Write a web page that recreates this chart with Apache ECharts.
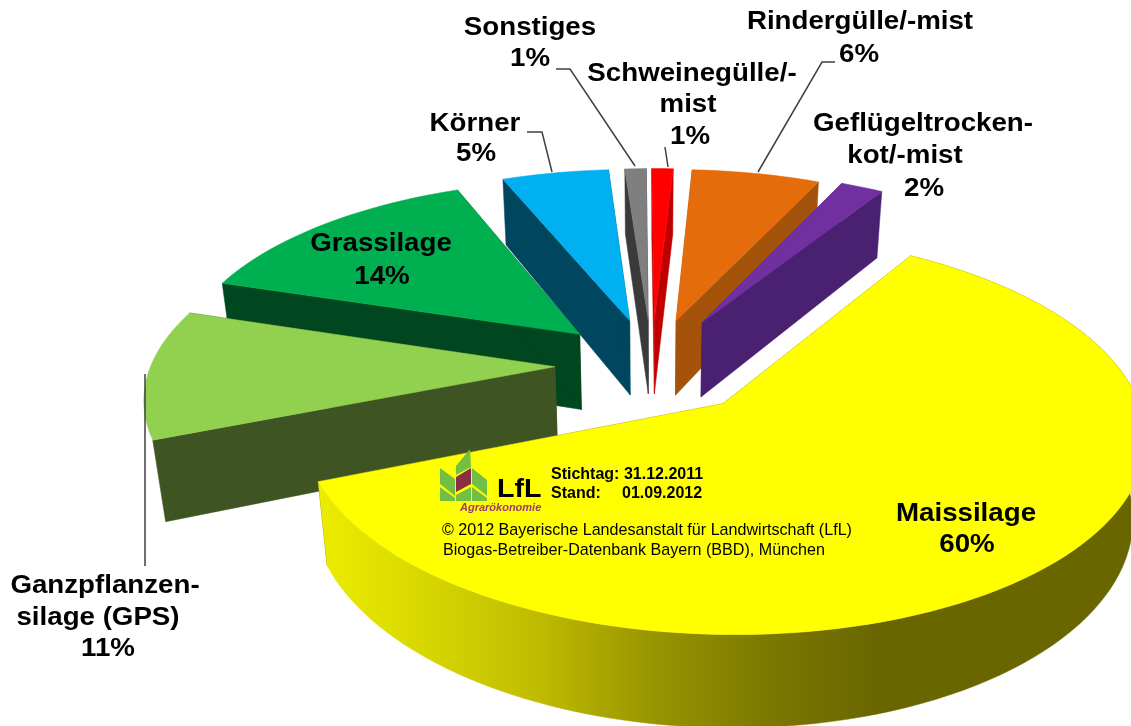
<!DOCTYPE html>
<html>
<head>
<meta charset="utf-8">
<title>Substrate Biogas Bayern</title>
<script src="https://cdn.jsdelivr.net/npm/echarts@6/dist/echarts.min.js"></script>
<style>
  html, body { margin: 0; padding: 0; background: #fff; }
  #main { width: 1131px; height: 726px; }
</style>
</head>
<body>
<div id="main"></div>
<script>
// chart data, clockwise from the Maissilage slice
const categories = ['Maissilage', 'Ganzpflanzensilage (GPS)', 'Grassilage', 'Körner', 'Sonstiges', 'Schweinegülle/-mist', 'Rindergülle/-mist', 'Geflügeltrockenkot/-mist'];
const shares = [60, 11, 14, 5, 1, 1, 6, 2];
const topColors = ['#FFFF00', '#92D050', '#00B050', '#00B0F0', '#7F7F7F', '#FF0000', '#E46C0A', '#7030A0'];
const wallColors = ['#696600', '#3E5422', '#00461F', '#00465F', '#3A3A3A', '#C00000', '#A5520B', '#4A2070'];
// how far each slice is pulled out of the pie
const explode = [0.265, 0.24, 0.25, 0.255, 0.255, 0.255, 0.255, 0.27];
// back slices first, front slices paint over them
const paintOrder = [3, 4, 5, 6, 7, 2, 1, 0];

// camera of the 3d pie
const view = { ox: 652, oy: 365, ax: 404, by: 185, persp: 0.145, depth: 77, shrink: 0.025, start: 32 };

const project = (x, y, down) => {
  const w = 1 + view.persp * y;
  return [
    view.ox + view.ax * x / (w + view.shrink * down),
    view.oy + (-view.by * y + view.depth * down) / w
  ];
};

const slices = [];
let cursor = view.start;
shares.forEach((v, i) => {
  const sweep = v * 3.6;
  const mid = (cursor + sweep / 2) * Math.PI / 180;
  slices.push({ from: cursor, to: cursor + sweep, dx: explode[i] * Math.sin(mid), dy: explode[i] * Math.cos(mid) });
  cursor += sweep;
});

const rimPoints = (s, down) => {
  const pts = [];
  const steps = Math.max(2, Math.ceil((s.to - s.from) / 2));
  for (let i = 0; i <= steps; i++) {
    const a = (s.from + (s.to - s.from) * i / steps) * Math.PI / 180;
    pts.push(project(s.dx + Math.sin(a), s.dy + Math.cos(a), down));
  }
  return pts;
};

const poly = (points, fill) => ({
  type: 'polygon',
  shape: { points: points },
  style: { fill: fill, stroke: fill, lineWidth: 0.5 }
});

const renderSlice = (params, api) => {
  const i = api.value(0);
  const s = slices[i];
  const top = rimPoints(s, 0);
  const bottom = rimPoints(s, 1);
  const apexTop = project(s.dx, s.dy, 0);
  const apexBottom = project(s.dx, s.dy, 1);
  const last = top.length - 1;
  const children = [
    poly([apexTop, top[0], bottom[0], apexBottom], wallColors[i]),
    poly([apexTop, top[last], bottom[last], apexBottom], wallColors[i])
  ];
  // only the slice that holds the front of the pie shows its outer wall
  if (s.from < 180 && s.to > 180) {
    const wallFill = new echarts.graphic.LinearGradient(316, 0, 880, 0, [
      { offset: 0, color: '#EDED00' },
      { offset: 0.2, color: '#D6D600' },
      { offset: 0.4, color: '#BEBA00' },
      { offset: 0.6, color: '#989400' },
      { offset: 0.8, color: '#7C7800' },
      { offset: 1, color: wallColors[i] }
    ], true);
    children.push(poly(top.concat(bottom.slice().reverse()), wallFill));
  }
  children.push(poly([apexTop].concat(top), topColors[i]));
  return { type: 'group', children: children };
};

const family = '"Liberation Sans", Arial, sans-serif';
const labelFont = 'bold 26px ' + family;
const labels = [
  ['Sonstiges', 530, 28], ['1%', 530, 59],
  ['Schweinegülle/-', 692, 74], ['mist', 688, 105], ['1%', 690, 137],
  ['Rindergülle/-mist', 860, 22], ['6%', 859, 55],
  ['Geflügeltrocken-', 923, 124], ['kot/-mist', 905, 156], ['2%', 924, 189],
  ['Körner', 475, 124], ['5%', 476, 154],
  ['Grassilage', 381, 244], ['14%', 382, 277],
  ['Maissilage', 966, 514], ['60%', 967, 545],
  ['Ganzpflanzen-', 105, 586], ['silage (GPS)', 98, 618], ['11%', 108, 649]
];
const leaders = [
  [[527, 132], [542, 132], [552, 172]],
  [[556, 69], [570, 69], [635, 166]],
  [[665, 147], [668, 167]],
  [[835, 62], [822, 62], [758, 172]],
  [[145, 374], [145, 566]]
];
const notes = [
  ['Stichtag: 31.12.2011', 551, 475, 'bold 16px '],
  ['Stand:', 551, 494, 'bold 16px '],
  ['01.09.2012', 622, 494, 'bold 16px '],
  ['© 2012 Bayerische Landesanstalt für Landwirtschaft (LfL)', 442, 531, '16.1px '],
  ['Biogas-Betreiber-Datenbank Bayern (BBD), München', 443, 551, '16.1px ']
];
const logoGreen = [
  [[456, 466], [470, 449], [471, 467], [456, 475]],
  [[440, 468], [455, 479], [455, 496], [440, 484]],
  [[472, 468], [487, 480], [487, 496], [472, 484]],
  [[440, 487], [455, 498], [455, 501], [440, 501]],
  [[472, 487], [487, 498], [487, 501], [472, 501]],
  [[456, 495], [471, 487], [471, 501], [456, 501]]
];
const logoRed = [[456, 477], [471, 468], [471, 484], [456, 492]];

const graphics = [];
leaders.forEach((pts) => {
  graphics.push({ type: 'polyline', z: 5, shape: { points: pts }, style: { stroke: '#404040', lineWidth: 1.5, fill: null } });
});
labels.forEach((l) => {
  graphics.push({ type: 'text', z: 6, x: l[1], y: l[2], scaleX: 1.065, style: { text: l[0], fill: '#000', font: labelFont, textAlign: 'center', textVerticalAlign: 'middle' } });
});
notes.forEach((n) => {
  graphics.push({ type: 'text', z: 6, x: n[1], y: n[2], style: { text: n[0], fill: '#000', font: n[3] + family, textAlign: 'left', textVerticalAlign: 'middle' } });
});
logoGreen.forEach((pts) => {
  graphics.push({ type: 'polygon', z: 5, shape: { points: pts }, style: { fill: '#72BF44' } });
});
graphics.push({ type: 'polygon', z: 5, shape: { points: logoRed }, style: { fill: '#8A2E44' } });
graphics.push({ type: 'text', z: 6, x: 497, y: 490, scaleX: 1.1, style: { text: 'LfL', fill: '#000', font: 'bold 26px ' + family, textAlign: 'left', textVerticalAlign: 'middle' } });
graphics.push({ type: 'text', z: 6, x: 460, y: 508, style: { text: 'Agrarökonomie', fill: '#9C3B6E', font: 'italic bold 11px ' + family, textAlign: 'left', textVerticalAlign: 'middle' } });

const myChart = echarts.init(document.getElementById('main'));
myChart.setOption({
  animation: false,
  backgroundColor: '#fff',
  graphic: graphics,
  series: [
    {
      type: 'custom',
      coordinateSystem: 'none',
      renderItem: renderSlice,
      silent: true,
      data: paintOrder.map((i) => ({ name: categories[i], value: [i, shares[i]] }))
    }
  ]
});
</script>
</body>
</html>
